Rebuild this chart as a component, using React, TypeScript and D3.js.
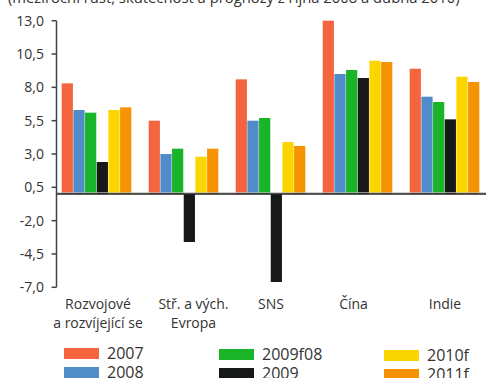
import React from "react";
import * as d3 from "d3";

const categories = [["Rozvojové", "a rozvíjející se"], ["Stř. a vých.", "Evropa"], ["SNS"], ["Čína"], ["Indie"]];
const seriesNames = ["2007", "2008", "2009f08", "2009", "2010f", "2011f"];
const seriesColors = ["#F4653F", "#508CC8", "#1AB428", "#171918", "#FBD500", "#F69300"];
const values: number[][] = [
  [8.3, 5.5, 8.6, 13.0, 9.4],
  [6.3, 3.0, 5.5, 9.0, 7.3],
  [6.1, 3.4, 5.7, 9.3, 6.9],
  [2.4, -3.6, -6.6, 8.7, 5.6],
  [6.3, 2.8, 3.9, 10.0, 8.8],
  [6.5, 3.4, 3.6, 9.9, 8.4],
];
const yTicks = [13.0, 10.5, 8.0, 5.5, 3.0, 0.5, -2.0, -4.5, -7.0];
const title = "(meziroční růst, skutečnost a prognózy z října 2008 a dubna 2010)";

const W = 486;
const H = 378;
const FONT = "'Open Sans', sans-serif";
const TEXT = "#333";
// small horizontal nudges of the category labels relative to group centres
const labelNudge = [1.5, 10, 0.5, -4, 0.5];

export default function App() {
  const y = d3.scaleLinear().domain([-7, 13]).range([287.3, 20.7]);
  const x0 = d3
    .scaleBand<number>()
    .domain(d3.range(categories.length))
    .range([53, 488])
    .paddingInner(0.2)
    .paddingOuter(0.1);
  const x1 = d3
    .scaleBand<number>()
    .domain(d3.range(seriesNames.length))
    .range([0, x0.bandwidth()])
    .paddingInner(0.04);
  const fmt = (v: number) => v.toFixed(1).replace(".", ",");
  const axisX = 56.5;
  const zeroY = y(0);

  const legendCols = [64, 219, 384];
  const legendRowY = [348, 367];
  const legendColOff = [0, 1, 2];

  return (
    <svg width={W} height={H} style={{ position: "absolute", left: 0, top: 0, background: "#fff" }}>
      <text x={8} y={3} fontFamily={FONT} fontSize={14.8} fill={TEXT}>
        {title}
      </text>
      {/* bars */}
      {values.map((row, s) =>
        row.map((v, c) => {
          const bx = (x0(c) ?? 0) + (x1(s) ?? 0);
          const top = Math.min(y(v), zeroY);
          const h = Math.abs(y(v) - zeroY);
          return <rect key={`${s}-${c}`} x={bx} y={top} width={x1.bandwidth()} height={h} fill={seriesColors[s]} />;
        })
      )}
      {/* zero line */}
      <line x1={axisX} x2={W} y1={zeroY - 1.2} y2={zeroY - 1.2} stroke="#bbb" strokeWidth={1} />
      <line x1={axisX} x2={W} y1={zeroY} y2={zeroY} stroke="#222" strokeWidth={1.6} />
      {/* y axis */}
      <line x1={axisX} x2={axisX} y1={y(13)} y2={y(-7)} stroke="#444" strokeWidth={1.5} />
      {yTicks.map((t) => (
        <g key={t}>
          <line x1={axisX - 5} x2={axisX} y1={y(t)} y2={y(t)} stroke="#444" strokeWidth={1.5} />
          <text x={44} y={y(t)} dy="0.35em" textAnchor="end" fontFamily={FONT} fontSize={14} fill={TEXT}>
            {fmt(t)}
          </text>
        </g>
      ))}
      {/* category labels */}
      {categories.map((lines, c) => {
        const cx = (x0(c) ?? 0) + x0.bandwidth() / 2 + labelNudge[c];
        return (
          <text key={c} x={cx} y={309} textAnchor="middle" fontFamily={FONT} fontSize={14} fill={TEXT}>
            {lines.map((l, i) => (
              <tspan key={i} x={cx} dy={i === 0 ? 0 : 19}>
                {l}
              </tspan>
            ))}
          </text>
        );
      })}
      {/* legend */}
      {seriesNames.map((n, i) => {
        const col = Math.floor(i / 2);
        const row = i % 2;
        const lx = legendCols[col];
        const ly = legendRowY[row] + legendColOff[col];
        return (
          <g key={n}>
            <rect x={lx} y={ly} width={35} height={11} fill={seriesColors[i]} />
            <text x={lx + 43} y={ly + 5.5} dy="0.35em" fontFamily={FONT} fontSize={16} fill={TEXT}>
              {n}
            </text>
          </g>
        );
      })}
    </svg>
  );
}
